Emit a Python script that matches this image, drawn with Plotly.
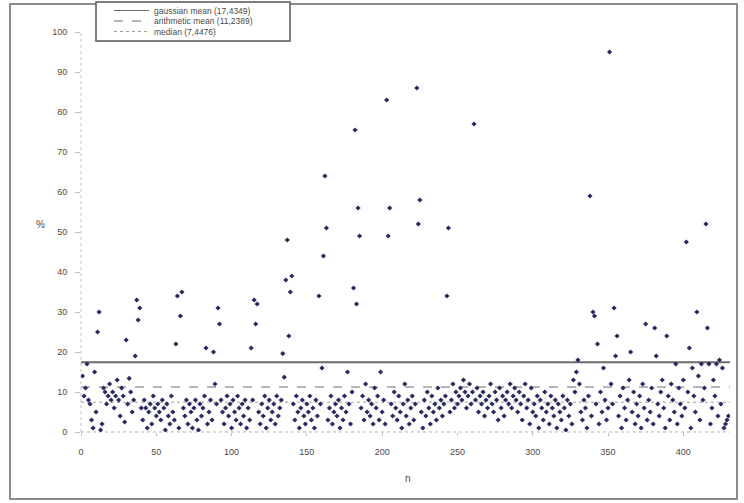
import plotly.graph_objects as go

# ---------------- data ----------------
values = [
    14, 9, 11, 17, 8, 7, 3, 1, 15, 5,
    25, 30, 0.5, 2, 11, 10, 7, 9, 12, 8,
    10, 6, 9, 13, 8, 4, 11, 9, 2.5, 23,
    7, 13.4, 10, 5, 8, 19, 33, 28, 31, 6,
    3, 8, 6, 1, 5, 7, 2, 9, 6, 4,
    7, 5, 3, 8, 6, 0.5, 7, 4, 2, 9,
    5, 3, 22, 34, 1, 29, 35, 6, 4, 8,
    2, 7, 5, 1, 6, 8, 3, 0.5, 7, 4,
    6, 9, 21, 2, 5, 8, 3, 20, 12, 7,
    31, 27, 8, 5, 2, 6, 9, 4, 7, 1,
    8, 5, 3, 9, 6, 2, 7, 4, 8, 1,
    6, 3, 21, 8, 33, 27, 32, 5, 2, 7,
    4, 9, 1, 6, 8, 3, 5, 7, 2, 9,
    4, 6, 8, 19.6, 13.7, 38, 48, 24, 35, 39,
    7, 3, 9, 5, 1, 6, 8, 4, 2, 7,
    5, 9, 3, 6, 1, 8, 4, 34, 7, 16,
    44, 64, 51, 3, 6, 9, 2, 5, 7, 4,
    8, 1, 6, 3, 9, 5, 15, 7, 2, 10,
    36, 75.5, 32, 56, 49, 6, 9, 3, 12, 5,
    8, 4, 7, 2, 11, 6, 9, 3, 15, 5,
    8, 2, 83, 49, 56, 7, 4, 10, 6, 3,
    9, 5, 1, 7, 12, 4, 8, 2, 6, 9,
    3, 7, 86, 52, 58, 5, 1, 8, 4, 10,
    6, 2, 9, 5, 7, 3, 11, 6, 8, 4,
    7, 9, 34, 51, 5, 8, 12, 6, 10, 7,
    9, 11, 8, 13, 10, 6, 9, 12, 7, 10,
    77, 8, 11, 5, 9, 7, 10, 4, 8, 6,
    9, 12, 7, 5, 10, 8, 3, 11, 6, 9,
    4, 8, 10, 7, 12, 6, 9, 11, 8, 5,
    10, 7, 3, 9, 12, 6, 8, 2, 11, 5,
    7, 4, 9, 1, 8, 6, 3, 10, 5, 7,
    2, 9, 6, 4, 8, 1, 7, 5, 3, 9,
    6, 0.5, 8, 4, 7, 2, 13, 10, 15, 18,
    12, 5, 3, 8, 6, 1, 9, 59, 4, 30,
    29, 7, 22, 2, 10, 5, 16, 8, 3, 6,
    95, 12, 7, 31, 19, 24, 4, 9, 1, 11,
    6, 3, 8, 13, 20, 5, 10, 2, 7, 4,
    9, 1, 12, 6, 27, 3, 8, 5, 11, 2,
    26, 19, 7, 4, 10, 13, 6, 1, 24, 9,
    3, 12, 8, 5, 17, 2, 11, 7, 4, 13,
    6, 47.5, 10, 21, 1, 16, 9, 5, 30, 14,
    3, 17, 8, 11, 52, 26, 17, 2, 6, 13,
    9, 17, 4, 18, 7, 16, 1, 2, 3, 4,
]
n_values = list(range(1, len(values) + 1))

gaussian_mean = 17.4349
arithmetic_mean = 11.2389
median_value = 7.4476

legend_labels = [
    "gaussian mean (17,4349)",
    "arithmetic mean (11,2389)",
    "median (7,4476)",
]
x_ticks = [0, 50, 100, 150, 200, 250, 300, 350, 400]
y_ticks = [0, 10, 20, 30, 40, 50, 60, 70, 80, 90, 100]

# ---------------- layout geometry ----------------
W, H = 744, 503
L, R, T, B = 81, 14, 32, 71
PW, PH = W - L - R, H - T - B


def px(x):
    return (x - L) / PW


def py(y):
    return (H - B - y) / PH


FONT = "Liberation Sans, Arial, sans-serif"
TXT = "#4a4a4a"

fig = go.Figure()

fig.add_trace(go.Scatter(
    x=n_values, y=values, mode="markers",
    marker=dict(symbol="diamond", size=4, color="#2a2a60",
                line=dict(width=0)),
    showlegend=False, hoverinfo="x+y",
))

shapes = []
line_styles = [
    (gaussian_mean, dict(color="#6b6b6b", width=2, dash="solid")),
    (arithmetic_mean, dict(color="#6b6b6b", width=1, dash="dash")),
    (median_value, dict(color="#a0a0a0", width=1, dash="dot")),
]
for val, st in line_styles:
    shapes.append(dict(type="line", xref="paper", yref="y", x0=0, x1=1,
                       y0=val, y1=val, line=st, layer="below"))

shapes.append(dict(type="line", xref="paper", yref="paper", x0=0, x1=1, y0=0, y1=0,
                   line=dict(color="#b0b0b0", width=1, dash="dot"), layer="below"))
shapes.append(dict(type="line", xref="paper", yref="paper", x0=0, x1=0, y0=0, y1=1,
                   line=dict(color="#c0c0c0", width=1, dash="dot"), layer="below"))

# outer chart border
shapes.append(dict(type="rect", xref="paper", yref="paper",
                   x0=px(10), x1=px(737), y0=py(499), y1=py(4),
                   line=dict(color="#8c8c8c", width=2), fillcolor="rgba(0,0,0,0)",
                   layer="below"))

# legend box
shapes.append(dict(type="rect", xref="paper", yref="paper",
                   x0=px(96), x1=px(290), y0=py(41), y1=py(2),
                   line=dict(color="#555555", width=1.5), fillcolor="white",
                   layer="above"))

annotations = []
leg_y = [10.5, 21, 31.5]
for (val, st), lab, yy in zip(line_styles, legend_labels, leg_y):
    shapes.append(dict(type="line", xref="paper", yref="paper",
                       x0=px(114), x1=px(149), y0=py(yy), y1=py(yy),
                       line=dict(color=st["color"], width=1, dash=st["dash"]),
                       layer="above"))
    annotations.append(dict(xref="paper", yref="paper", x=px(153), y=py(yy),
                            text=lab, showarrow=False, xanchor="left",
                            yanchor="middle", borderpad=0,
                            font=dict(family=FONT, size=8.5, color=TXT)))

annotations.append(dict(xref="paper", yref="paper", x=px(34), y=py(224), text="%",
                        showarrow=False, textangle=0, yanchor="middle",
                        font=dict(family=FONT, size=10, color=TXT)))
annotations.append(dict(xref="paper", yref="paper", x=px(408), y=py(478), text="n",
                        showarrow=False, yanchor="middle",
                        font=dict(family=FONT, size=10, color=TXT)))

fig.update_layout(
    width=W, height=H,
    margin=dict(l=L, r=R, t=T, b=B, pad=0),
    paper_bgcolor="white", plot_bgcolor="white",
    shapes=shapes, annotations=annotations,
    showlegend=False,
    xaxis=dict(range=[0, 431], tickvals=x_ticks, ticktext=[str(v) for v in x_ticks],
               showgrid=False, zeroline=False, showline=False,
               ticks="outside", ticklen=3, tickcolor="#c0c0c0",
               ticklabelstandoff=8,
               tickfont=dict(family=FONT, size=9, color=TXT)),
    yaxis=dict(range=[0, 100], tickvals=y_ticks, ticktext=[str(v) for v in y_ticks],
               showgrid=False, zeroline=False, showline=False,
               ticks="outside", ticklen=5, tickcolor="#c0c0c0",
               ticklabelstandoff=6,
               tickfont=dict(family=FONT, size=9, color=TXT)),
)

fig.write_html(
    "out.html",
    config={"displayModeBar": False},
    post_script="document.body.style.margin='0';document.body.style.overflow='hidden';",
)
